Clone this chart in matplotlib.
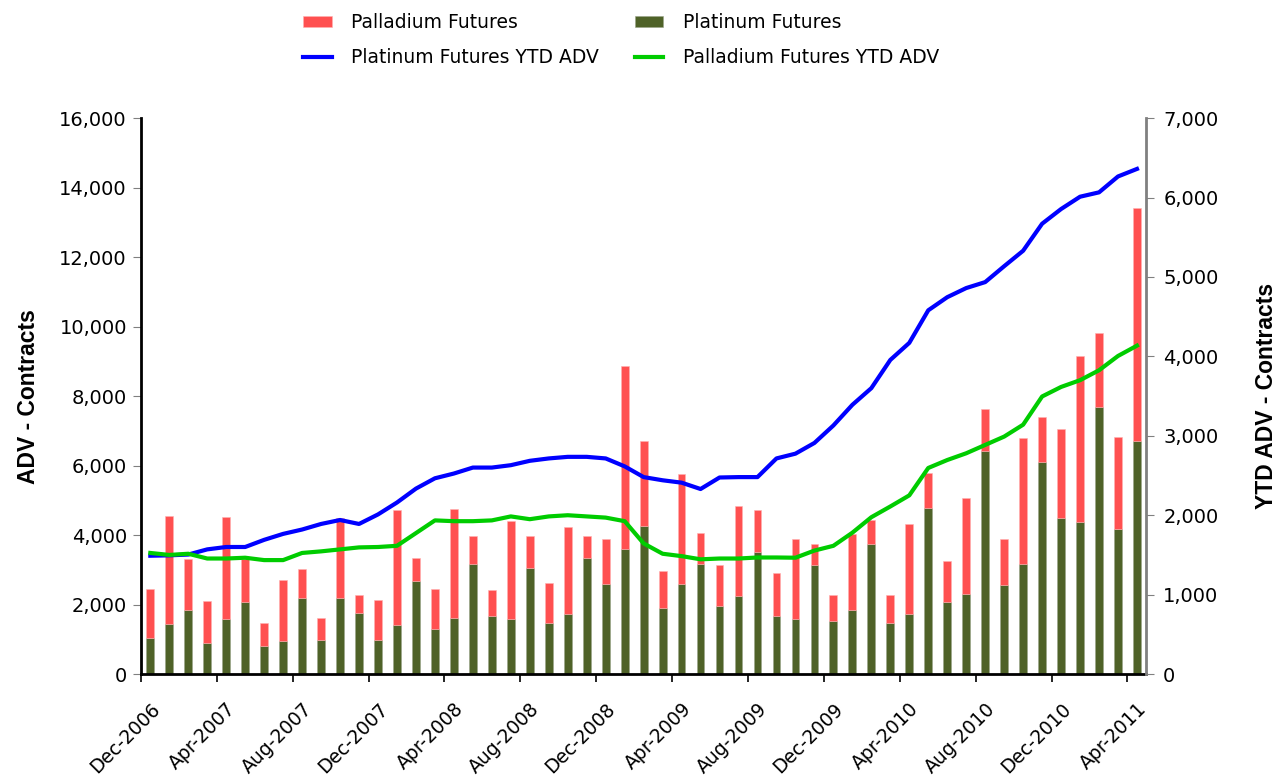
import matplotlib
matplotlib.use('Agg')
import matplotlib.pyplot as plt
from matplotlib.ticker import FuncFormatter, FixedLocator

plt.rcParams['font.family'] = ['DejaVu Sans']

# monthly, Dec-2006 .. Apr-2011
months = ['Dec-2006', 'Jan-2007', 'Feb-2007', 'Mar-2007', 'Apr-2007', 'May-2007', 'Jun-2007',
          'Jul-2007', 'Aug-2007', 'Sep-2007', 'Oct-2007', 'Nov-2007', 'Dec-2007', 'Jan-2008',
          'Feb-2008', 'Mar-2008', 'Apr-2008', 'May-2008', 'Jun-2008', 'Jul-2008', 'Aug-2008',
          'Sep-2008', 'Oct-2008', 'Nov-2008', 'Dec-2008', 'Jan-2009', 'Feb-2009', 'Mar-2009',
          'Apr-2009', 'May-2009', 'Jun-2009', 'Jul-2009', 'Aug-2009', 'Sep-2009', 'Oct-2009',
          'Nov-2009', 'Dec-2009', 'Jan-2010', 'Feb-2010', 'Mar-2010', 'Apr-2010', 'May-2010',
          'Jun-2010', 'Jul-2010', 'Aug-2010', 'Sep-2010', 'Oct-2010', 'Nov-2010', 'Dec-2010',
          'Jan-2011', 'Feb-2011', 'Mar-2011', 'Apr-2011']

# stacked totals (platinum + palladium) and platinum part
total = [2450, 4550, 3300, 2100, 4530, 3300, 1480, 2720, 3010, 1610, 4480, 2280, 2120,
         4720, 3350, 2440, 4750, 3960, 2420, 4400, 3960, 2620, 4230, 3960, 3890, 8880,
         6700, 2980, 5760, 4060, 3150, 4830, 4720, 2920, 3890, 3750, 2280, 4020, 4420,
         2280, 4320, 5800, 3250, 5060, 7620, 3900, 6780, 7410, 7050, 9160, 9810, 6810, 13420]
platinum = [1050, 1450, 1850, 900, 1580, 2080, 800, 950, 2200, 970, 2200, 1750, 970,
            1400, 2680, 1290, 1600, 3180, 1680, 1580, 3040, 1480, 1720, 3330, 2580, 3600,
            4260, 1890, 2580, 3160, 1950, 2250, 3520, 1680, 1580, 3150, 1540, 1830, 3750,
            1480, 1740, 4770, 2080, 2310, 6410, 2550, 3180, 6100, 4480, 4380, 7680, 4170, 6700]
palladium = [t - p for t, p in zip(total, platinum)]

# YTD ADV (right axis)
pt_ytd = [1490, 1495, 1505, 1570, 1600, 1600, 1690, 1765, 1820, 1890, 1940, 1890, 2010,
          2160, 2335, 2465, 2525, 2600, 2600, 2630, 2685, 2715, 2735, 2735, 2715, 2615,
          2480, 2440, 2410, 2330, 2475, 2480, 2480, 2715, 2775, 2910, 3130, 3390, 3600,
          3955, 4170, 4580, 4745, 4860, 4935, 5135, 5330, 5670, 5855, 6010, 6065, 6265, 6360]
pd_ytd = [1525, 1500, 1515, 1455, 1455, 1465, 1435, 1435, 1525, 1545, 1570, 1595, 1600,
          1615, 1775, 1935, 1925, 1925, 1935, 1985, 1950, 1985, 2000, 1985, 1970, 1925,
          1645, 1515, 1485, 1445, 1455, 1455, 1468, 1468, 1465, 1555, 1615, 1780, 1975,
          2110, 2250, 2595, 2695, 2780, 2885, 2990, 3140, 3495, 3615, 3700, 3825, 4005, 4135]

x = list(range(len(months)))

fig = plt.figure(figsize=(12.86, 7.82), dpi=100)
ax = fig.add_axes([0.1095, 0.138, 0.782, 0.711])
b1 = ax.bar(x, platinum, width=0.41, color='#4F6228', edgecolor='#9aa58a', linewidth=0.4)
b2 = ax.bar(x, palladium, width=0.41, bottom=platinum, color='#FF5050',
            edgecolor='#ffb0b0', linewidth=0.4)
ax.set_xlim(-0.5, 52.5)
ax.set_ylim(0, 16000)
ax.set_yticks(range(0, 16001, 2000))
ax.yaxis.set_major_formatter(FuncFormatter(lambda v, p: '{:,.0f}'.format(v)))

ax2 = ax.twinx()
l1, = ax2.plot(x, pt_ytd, color='#0000FF', lw=3, solid_joinstyle='round')
l2, = ax2.plot(x, pd_ytd, color='#00CC00', lw=3, solid_joinstyle='round')
ax2.set_ylim(0, 7000)
ax2.set_yticks(range(0, 7001, 1000))
ax2.yaxis.set_major_formatter(FuncFormatter(lambda v, p: '{:,.0f}'.format(v)))

# category labels every 4 months, tick marks between categories
ax.set_xticks(x[::4])
ax.set_xticklabels(months[::4], rotation=45, ha='right', rotation_mode='anchor', fontsize=13.5)
ax.tick_params(axis='x', which='major', length=0, pad=18)
ax.xaxis.set_minor_locator(FixedLocator([i - 0.5 for i in range(0, 53, 4)]))
ax.tick_params(axis='x', which='minor', length=6, width=1.2, color='black')
ax.tick_params(axis='y', labelsize=14, length=6, color='#808080', pad=4)
ax2.tick_params(axis='y', labelsize=14, length=6, color='#808080', pad=6)

for a in (ax, ax2):
    a.spines['top'].set_visible(False)
ax.spines['left'].set_linewidth(2)
ax.spines['bottom'].set_linewidth(2)
ax2.spines['left'].set_visible(False)
ax2.spines['bottom'].set_visible(False)
ax2.spines['right'].set_color('#808080')
ax2.spines['right'].set_linewidth(2)
ax.spines['right'].set_visible(False)

ax.set_ylabel('ADV - Contracts', fontsize=16.5, fontweight='bold',
              family='Liberation Sans', labelpad=14)
ax2.set_ylabel('YTD ADV - Contracts', fontsize=16.5, fontweight='bold',
               family='Liberation Sans', labelpad=26)

fig.legend([b2, l1, b1, l2],
           ['Palladium Futures', 'Platinum Futures YTD ADV', 'Platinum Futures', 'Palladium Futures YTD ADV'],
           loc='upper center', bbox_to_anchor=(0.483, 1.005), ncol=2, frameon=False, fontsize=13.5,
           handlelength=1.5, handleheight=0.57, handletextpad=1.05, columnspacing=1.9,
           labelspacing=0.85)

fig.savefig('out.png', dpi=100)
